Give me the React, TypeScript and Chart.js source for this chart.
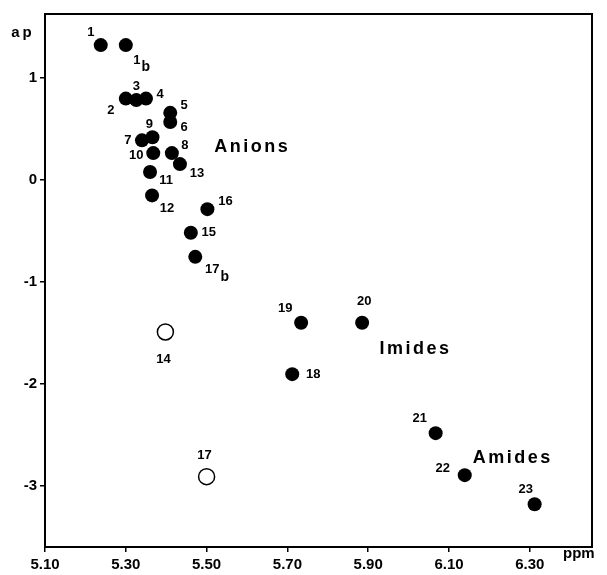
import { useEffect, useRef } from "react";
import { Chart, registerables } from "chart.js";

Chart.register(...registerables);

// ---- data ----
const filledLabels = ["1", "1b", "2", "3", "4", "5", "6", "7", "8", "9", "10", "11", "12", "13", "15", "16", "17b", "18", "19", "20", "21", "22", "23"];
const filledPpm = [5.238, 5.30, 5.30, 5.326, 5.35, 5.41, 5.41, 5.34, 5.414, 5.366, 5.368, 5.36, 5.365, 5.434, 5.461, 5.502, 5.472, 5.712, 5.734, 5.885, 6.067, 6.139, 6.312];
const filledAp = [1.325, 1.325, 0.80, 0.785, 0.80, 0.66, 0.57, 0.39, 0.265, 0.42, 0.265, 0.08, -0.15, 0.157, -0.517, -0.285, -0.753, -1.904, -1.40, -1.40, -2.483, -2.895, -3.18];

const openLabels = ["14", "17"];
const openPpm = [5.398, 5.50];
const openAp = [-1.49, -2.91];

const groupNames = ["Anions", "Imides", "Amides"];
const groupPpm = [5.613, 6.017, 6.258];
const groupAp = [0.324, -1.66, -2.73];

const xTickValues = [5.1, 5.3, 5.5, 5.7, 5.9, 6.1, 6.3];
const xTickLabels = ["5.10", "5.30", "5.50", "5.70", "5.90", "6.10", "6.30"];
const yTickValues = [-3, -2, -1, 0, 1];
const yTickLabels = ["-3", "-2", "-1", "0", "1"];

// ---- label placement (pixel offsets, styling only) ----
const filledOffsets: [number, number][] = [
  [-10, -13], [11, 15], [-15, 12], [0, -14], [14, -4], [14, -7], [14, 5], [-14, 0], [13, -8], [-3, -13],
  [-17, 2], [16, 8], [15, 13], [17, 9], [18, 0], [18, -8], [17, 13], [21, 0], [-16, -14], [2, -21],
  [-16, -15], [-22, -7], [-9, -15],
];
const openOffsets: [number, number][] = [[-2, 27], [-2, -21]];

const FONT = '"Liberation Sans", Arial, sans-serif';

function drawLabel(ctx: CanvasRenderingContext2D, text: string, x: number, y: number) {
  let main = text;
  let sub = "";
  if (text.endsWith("b")) {
    main = text.slice(0, -1);
    sub = "b";
  }
  ctx.font = `bold 13px ${FONT}`;
  ctx.textAlign = "center";
  ctx.textBaseline = "middle";
  ctx.fillText(main, x, y);
  if (sub) {
    const w = ctx.measureText(main).width;
    ctx.font = `bold 14px ${FONT}`;
    ctx.textAlign = "left";
    ctx.fillText(sub, x + w / 2 + 1, y + 7);
  }
}

const framePlugin = {
  id: "frame",
  beforeDatasetsDraw(chart: any) {
    const { ctx, chartArea: a } = chart;
    ctx.save();
    ctx.strokeStyle = "#000";
    ctx.lineWidth = 2;
    ctx.strokeRect(a.left, a.top, a.right - a.left, a.bottom - a.top);
    ctx.restore();
  },
};

const labelPlugin = {
  id: "labels",
  afterDatasetsDraw(chart: any) {
    const { ctx } = chart;
    const xs = chart.scales.x;
    const ys = chart.scales.y;
    ctx.save();
    ctx.fillStyle = "#000";
    filledLabels.forEach((t, i) => {
      const px = xs.getPixelForValue(filledPpm[i]);
      const py = ys.getPixelForValue(filledAp[i]);
      drawLabel(ctx, t, px + filledOffsets[i][0], py + filledOffsets[i][1]);
    });
    openLabels.forEach((t, i) => {
      const px = xs.getPixelForValue(openPpm[i]);
      const py = ys.getPixelForValue(openAp[i]);
      drawLabel(ctx, t, px + openOffsets[i][0], py + openOffsets[i][1]);
    });
    ctx.font = `bold 18px ${FONT}`;
    ctx.textAlign = "center";
    ctx.textBaseline = "middle";
    (ctx as any).letterSpacing = "2.5px";
    groupNames.forEach((g, i) => {
      ctx.fillText(g, xs.getPixelForValue(groupPpm[i]), ys.getPixelForValue(groupAp[i]));
    });
    // axis titles
    ctx.font = `bold 15px ${FONT}`;
    (ctx as any).letterSpacing = "3px";
    ctx.fillText("ap", 23, 33);
    (ctx as any).letterSpacing = "0px";
    ctx.textAlign = "left";
    ctx.fillText("ppm", 563, 554);
    ctx.restore();
  },
};

export default function App() {
  const ref = useRef<HTMLCanvasElement>(null);
  useEffect(() => {
    document.body.style.margin = "0";
    const chart = new Chart(ref.current!, {
      type: "scatter",
      data: {
        datasets: [
          {
            data: filledPpm.map((x, i) => ({ x, y: filledAp[i] })),
            pointRadius: 7,
            pointBackgroundColor: "#000",
            pointBorderColor: "#000",
            pointBorderWidth: 0,
          },
          {
            data: openPpm.map((x, i) => ({ x, y: openAp[i] })),
            pointRadius: 8,
            pointBackgroundColor: "#fff",
            pointBorderColor: "#000",
            pointBorderWidth: 1.5,
          },
        ],
      },
      options: {
        animation: false,
        responsive: false,
        events: [],
        plugins: { legend: { display: false }, tooltip: { enabled: false } },
        layout: { padding: { top: 14, right: 15, left: 0, bottom: 0 } },
        scales: {
          x: {
            type: "linear",
            min: 5.1,
            max: 6.454,
            afterBuildTicks: (s: any) => {
              s.ticks = xTickValues.map((v) => ({ value: v }));
            },
            afterFit: (s: any) => {
              s.height = 28;
            },
            ticks: {
              callback: (_v: any, i: number) => xTickLabels[i],
              font: { family: FONT, weight: "bold", size: 15 },
              color: "#000",
              padding: 4,
              maxRotation: 0,
              autoSkip: false,
            },
            grid: { drawOnChartArea: false, tickLength: 5, color: "#000", lineWidth: 1.5 },
            border: { color: "#000", width: 2 },
          },
          y: {
            type: "linear",
            min: -3.6,
            max: 1.63,
            afterBuildTicks: (s: any) => {
              s.ticks = yTickValues.map((v) => ({ value: v }));
            },
            afterFit: (s: any) => {
              s.width = 45;
            },
            ticks: {
              callback: (_v: any, i: number) => yTickLabels[i],
              font: { family: FONT, weight: "bold", size: 15 },
              color: "#000",
              padding: 3,
              autoSkip: false,
            },
            grid: { drawOnChartArea: false, tickLength: 5, color: "#000", lineWidth: 1.5 },
            border: { color: "#000", width: 2 },
          },
        },
      },
      plugins: [framePlugin, labelPlugin],
    } as any);
    return () => chart.destroy();
  }, []);
  return <canvas ref={ref} width={607} height={575} style={{ display: "block" }} />;
}
